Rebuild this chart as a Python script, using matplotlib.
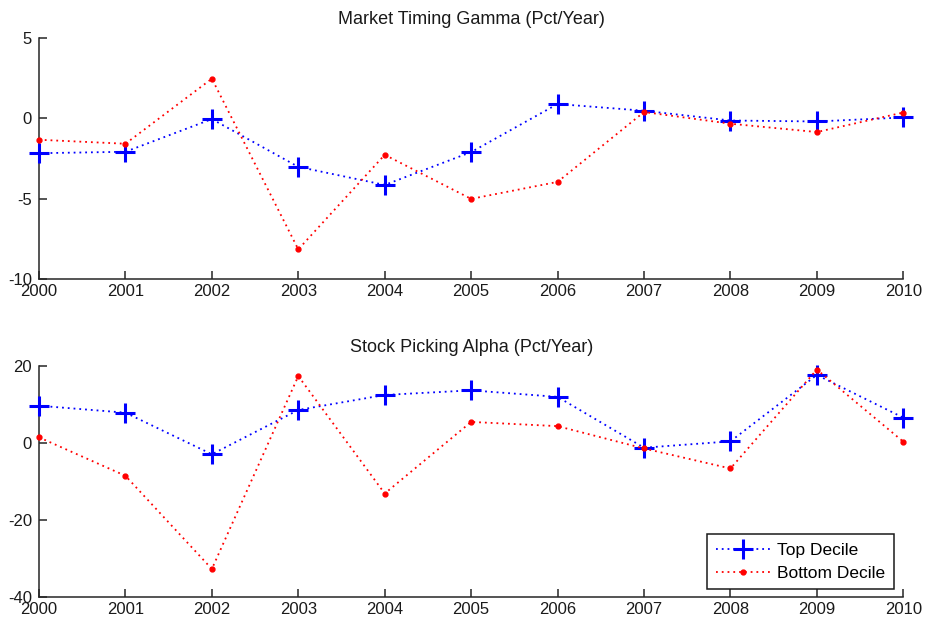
import matplotlib
matplotlib.use("Agg")
import matplotlib.pyplot as plt

plt.rcParams['font.family'] = ['Liberation Sans', 'DejaVu Sans']
plt.rcParams['axes.unicode_minus'] = False

years = [2000, 2001, 2002, 2003, 2004, 2005, 2006, 2007, 2008, 2009, 2010]

gamma_top = [-2.17, -2.08, -0.04, -3.02, -4.15, -2.10, 0.90, 0.48, -0.13, -0.19, 0.06]
gamma_bottom = [-1.33, -1.58, 2.48, -8.17, -2.27, -5.02, -3.96, 0.40, -0.33, -0.85, 0.37]

alpha_top = [9.6, 7.8, -3.0, 8.5, 12.4, 13.6, 11.9, -1.3, 0.35, 17.6, 6.5]
alpha_bottom = [1.4, -8.6, -32.8, 17.3, -13.2, 5.4, 4.3, -1.5, -6.7, 19.0, 0.26]

titles = ["Market Timing Gamma (Pct/Year)", "Stock Picking Alpha (Pct/Year)"]
series_labels = ["Top Decile", "Bottom Decile"]
gamma_ticks = [-10, -5, 0, 5]
alpha_ticks = [-40, -20, 0, 20]

axis_color = '#262626'
text_color = '#1a1a1a'
dotted = (0, (1, 2.2))

fig = plt.figure(figsize=(9.25, 6.21), dpi=100)
ax1 = fig.add_axes([0.04216, 0.55121, 0.93438, 0.38712])
ax2 = fig.add_axes([0.04216, 0.03913, 0.93438, 0.37198])

panels = [
    (ax1, gamma_top, gamma_bottom, gamma_ticks, titles[0]),
    (ax2, alpha_top, alpha_bottom, alpha_ticks, titles[1]),
]

for ax, top, bottom, yticks, title in panels:
    ax.plot(years, top, color='#0000ff', linestyle=dotted, linewidth=1.3,
            marker='+', markersize=14, markeredgewidth=2.2,
            label=series_labels[0], clip_on=False, zorder=3)
    ax.plot(years, bottom, color='#ff0000', linestyle=dotted, linewidth=1.3,
            marker='.', markersize=7, label=series_labels[1],
            clip_on=False, zorder=3)
    ax.set_xlim(years[0], years[-1])
    ax.set_ylim(yticks[0], yticks[-1])
    ax.set_xticks(years)
    ax.set_yticks(yticks)
    ax.set_title(title, fontsize=13, color=text_color, pad=10)
    for side in ('top', 'right'):
        ax.spines[side].set_visible(False)
    for side in ('left', 'bottom'):
        ax.spines[side].set_color(axis_color)
        ax.spines[side].set_linewidth(1.1)
    ax.tick_params(direction='in', length=6, width=1.1, color=axis_color,
                   labelsize=12, labelcolor=text_color)
    ax.tick_params(axis='x', pad=4)
    ax.tick_params(axis='y', pad=5)
    ax.patch.set_visible(False)

leg = ax2.legend(loc='lower right', bbox_to_anchor=(0.9892, 0.032),
                 prop={'size': 12.5}, frameon=True, fancybox=False,
                 handlelength=3.2, handletextpad=0.35, borderpad=0.5,
                 labelspacing=0.45, borderaxespad=0.0)
leg.get_frame().set_edgecolor(text_color)
leg.get_frame().set_linewidth(1.1)
leg.get_frame().set_alpha(1.0)
leg.set_zorder(5)

fig.savefig('out.png', dpi=100, facecolor='white')
